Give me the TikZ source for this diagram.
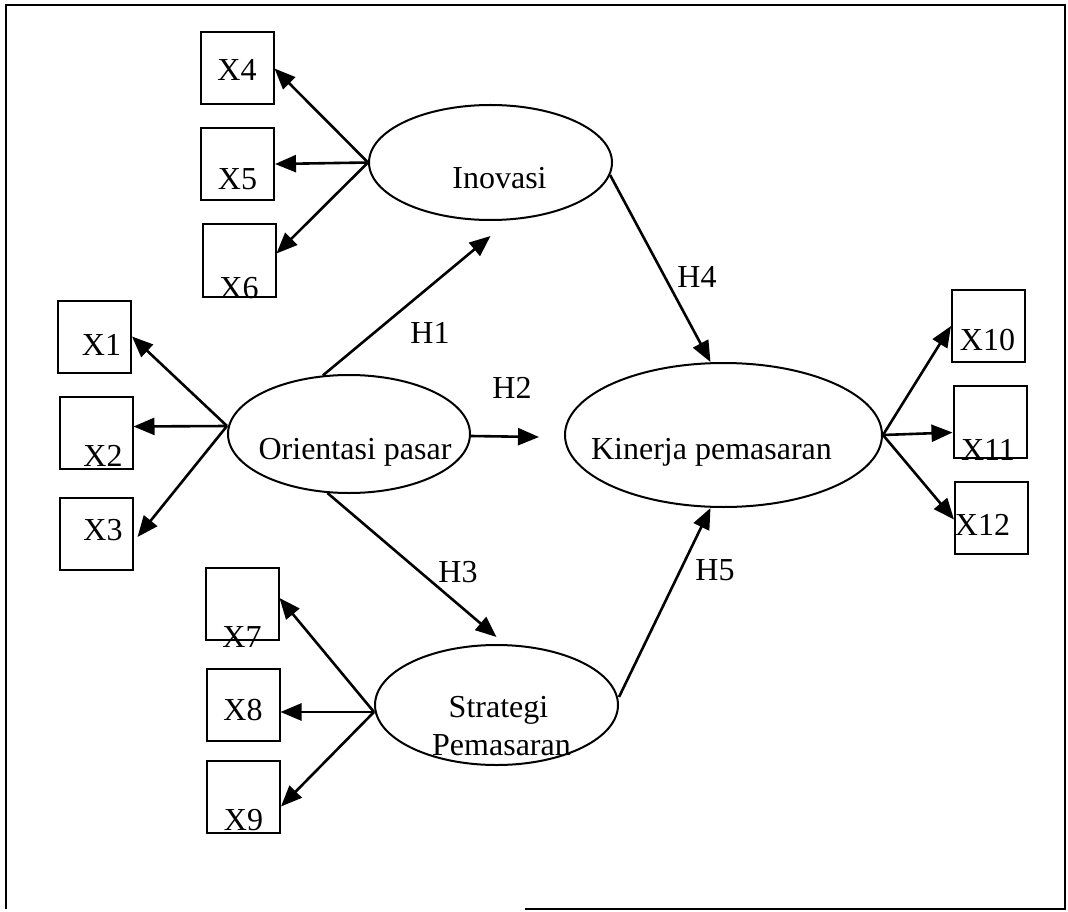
\documentclass[tikz,border=0pt]{standalone}
\usepackage{fontspec}
\setmainfont{Liberation Serif}
\usetikzlibrary{shapes.geometric,arrows.meta}
\begin{document}
\begin{tikzpicture}[x=1pt,y=-1pt,
  font=\fontsize{32}{38}\selectfont,
  ind/.style={draw, line width=2pt, minimum width=73pt, minimum height=72pt, inner sep=0pt},
  lat/.style={draw, ellipse, line width=2pt, inner sep=0pt},
  txt/.style={inner sep=0pt, anchor=base},
  lbl/.style={inner sep=0pt},
  link/.style={line width=2.6pt, -{Triangle[length=21pt,width=17pt]}}]
\useasboundingbox (0,0) rectangle (1068,912);

% outer frame (lower left part of the bottom edge is not printed)
\draw[line width=2.2pt] (525,909) -- (1065,909) -- (1065,5) -- (6,5) -- (6,909);

% latent variables
\node[lat, minimum width=243pt, minimum height=115pt,
  label={[txt,xshift=9pt,yshift=-15.5pt]center:Inovasi}] (ino) at (490.5,162.5) {};
\node[lat, minimum width=242pt, minimum height=118pt,
  label={[txt,xshift=6pt,yshift=-18pt]center:Orientasi pasar}] (op) at (349,434) {};
\node[lat, minimum width=317pt, minimum height=144pt,
  label={[txt,xshift=-12pt,yshift=-17pt]center:Kinerja pemasaran}] (kp) at (723.5,435) {};
\node[lat, minimum width=243pt, minimum height=120pt,
  label={[txt,xshift=2pt,yshift=-5pt]center:Strategi},
  label={[txt,xshift=5pt,yshift=-40pt]center:Pemasaran}] (sp) at (496.5,705) {};

% indicators
\node[ind, label={[txt,yshift=-1.5pt]center:X4}] (x4) at (237,68.5) {};
\node[ind, label={[txt,yshift=-15pt]center:X5}] (x5) at (237.5,164) {};
\node[ind, label={[txt,yshift=-27.5pt]center:X6}] (x6) at (239,260.5) {};
\node[ind, label={[txt,xshift=7pt,yshift=-8.5pt]center:X1}] (x1) at (94.5,336.5) {};
\node[ind, label={[txt,xshift=7pt,yshift=-23.5pt]center:X2}] (x2) at (96,432.5) {};
\node[ind, label={[txt,xshift=7pt,yshift=4pt]center:X3}] (x3) at (96,534) {};
\node[ind, label={[txt,yshift=-33pt]center:X7}] (x7) at (242,604) {};
\node[ind, label={[txt,yshift=-5pt]center:X8}] (x8) at (243,705) {};
\node[ind, label={[txt,yshift=-23.5pt]center:X9}] (x9) at (243.5,796.5) {};
\node[ind, label={[txt,xshift=-1pt,yshift=-14pt]center:X10}] (x10) at (988.5,326) {};
\node[ind, label={[txt,xshift=-2pt,yshift=-28.5pt]center:X11}] (x11) at (990,421.5) {};
\node[ind, label={[txt,xshift=-9pt,yshift=-7.5pt]center:X12}] (x12) at (991.5,517.5) {};

% hypothesis labels
\node[lbl] (h1) at (430,332.5) {H1};
\node[lbl] (h2) at (512,387.5) {H2};
\node[lbl] (h3) at (458,572.5) {H3};
\node[lbl] (h4) at (697,276.5) {H4};
\node[lbl] (h5) at (715,570) {H5};

% loadings
\draw[link] (ino.west) -- (x4.east);
\draw[link] (ino.west) -- (x5.east);
\draw[link] (ino.west) -- ([yshift=7pt]x6.east);
\draw[link] ([yshift=8pt]op.west) -- (x1.east);
\draw[link] ([yshift=8pt]op.west) -- ([yshift=6pt]x2.east);
\draw[link] ([yshift=8pt]op.west) -- ([xshift=4pt,yshift=-3pt]x3.east);
\draw[link] ([yshift=-7pt]sp.west) -- ([yshift=6pt]x7.east);
\draw[link] ([yshift=-7pt]sp.west) -- ([yshift=-7pt]x8.east);
\draw[link] ([yshift=-7pt]sp.west) -- ([yshift=-10pt]x9.east);
\draw[link] (kp.east) -- (x10.west);
\draw[link] (kp.east) -- ([yshift=-11pt]x11.west);
\draw[link] (kp.east) -- ([yshift=-2pt]x12.west);

% structural paths
\draw[link] (op.114) -- ([yshift=-15pt]ino.south);
\draw[link] ([yshift=-2pt]op.east) -- ([xshift=-25pt,yshift=-2pt]kp.west);
\draw[link] (op.250) -- ([yshift=7pt]sp.north);
\draw[link] (ino.-6) -- ([xshift=-13pt]kp.north);
\draw[link] ([yshift=8pt]sp.east) -- ([xshift=-13pt]kp.south);
\end{tikzpicture}
\end{document}
